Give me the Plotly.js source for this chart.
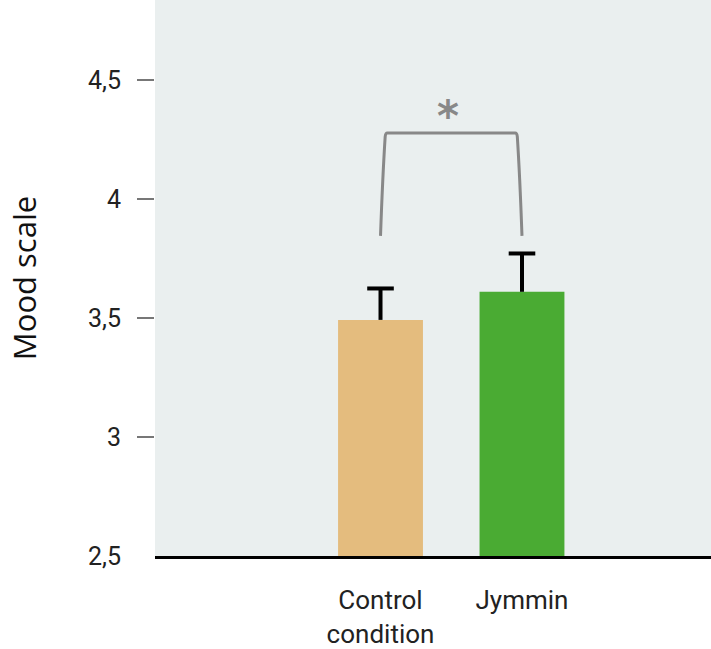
<!DOCTYPE html>
<html>
<head>
<meta charset="utf-8">
<script src="https://cdn.plot.ly/plotly-3.0.1.min.js"></script>
<style>html,body{margin:0;padding:0;background:#fff;}#chart{width:711px;height:649px;}</style>
</head>
<body>
<div id="chart"></div>
<script>
// Data
const categories = ["Control<br>condition", "Jymmin"];
const moodMeans = [3.492, 3.610];
const moodErrUp = [0.132, 0.161];
const barColors = ["#E4BC7E", "#4AAB33"];
const yTickVals = [2.5, 3, 3.5, 4, 4.5];
const yTickText = ["2,5", "3", "3,5", "4", "4,5"];
const significance = {label: "*", bottom: 3.845, top: 4.277};

const labelFont = "Roboto, 'Liberation Sans', sans-serif";
const xIdx = categories.map((_, i) => i);

const bars = {
  type: "bar",
  x: xIdx,
  y: moodMeans,
  width: 0.6,
  marker: {color: barColors, line: {width: 0}},
  hoverinfo: "skip"
};

// one-sided error bars: stem from bar top up to mean+err, with a cap marker at the top
const errTops = moodMeans.map((m, i) => m + moodErrUp[i]);
const errStems = {
  type: "scatter", mode: "lines",
  x: xIdx.flatMap(i => [i, i, null]),
  y: moodMeans.flatMap((m, i) => [m, errTops[i], null]),
  line: {color: "#000", width: 4},
  hoverinfo: "skip"
};
const errCaps = {
  type: "scatter", mode: "markers",
  x: xIdx, y: errTops,
  marker: {symbol: "line-ew", size: 19, line: {color: "#000", width: 4}},
  hoverinfo: "skip"
};

const b = significance;
const bracketPath = `M 0,${b.bottom} Q 0.015,${b.bottom + 0.25} 0.033,${b.top - 0.015} Q 0.036,${b.top} 0.048,${b.top} L 0.952,${b.top} Q 0.964,${b.top} 0.967,${b.top - 0.015} Q 0.985,${b.bottom + 0.25} 1,${b.bottom}`;

const layout = {
  width: 711, height: 649,
  margin: {l: 155, r: 0, t: 0, b: 93},
  paper_bgcolor: "#ffffff",
  plot_bgcolor: "#EAEFEF",
  showlegend: false,
  xaxis: {
    range: [-1.594, 2.336],
    tickvals: xIdx,
    ticktext: categories,
    showgrid: false, zeroline: false,
    showline: true, linecolor: "#000", linewidth: 3,
    ticks: "", ticklabelstandoff: 19,
    tickfont: {family: labelFont, size: 26, color: "#222"},
    fixedrange: true
  },
  yaxis: {
    range: [2.5, 4.836],
    tickvals: yTickVals,
    ticktext: yTickText,
    showgrid: false, zeroline: false, showline: false,
    ticks: "", ticklabelstandoff: 33,
    tickfont: {family: labelFont, size: 25, color: "#222"},
    title: {text: "Mood scale", font: {family: "'Open Sans', sans-serif", size: 31, color: "#111"}, standoff: 42},
    fixedrange: true
  },
  yaxis2: {
    overlaying: "y",
    range: [2.5, 4.836],
    tickvals: [3, 3.5, 4, 4.5],
    showticklabels: false,
    ticks: "outside", ticklen: 17, tickwidth: 1.5, tickcolor: "#777",
    showgrid: false, zeroline: false, showline: false,
    fixedrange: true
  },
  shapes: [
    {type: "path", xref: "x", yref: "y", path: bracketPath,
     line: {color: "#888", width: 3}}
  ],
  annotations: [
    {x: 0.477, y: 4.345, xref: "x", yref: "y", text: "<b>" + b.label + "</b>", showarrow: false,
     font: {family: "'DejaVu Sans', sans-serif", size: 42, color: "#888"}, yanchor: "middle"}
  ]
};

const helper = {type: "scatter", x: [0], y: [3], yaxis: "y2", mode: "markers",
                marker: {opacity: 0}, hoverinfo: "skip"};

Plotly.newPlot("chart", [bars, errStems, errCaps, helper], layout, {displayModeBar: false, staticPlot: true});
</script>
</body>
</html>
